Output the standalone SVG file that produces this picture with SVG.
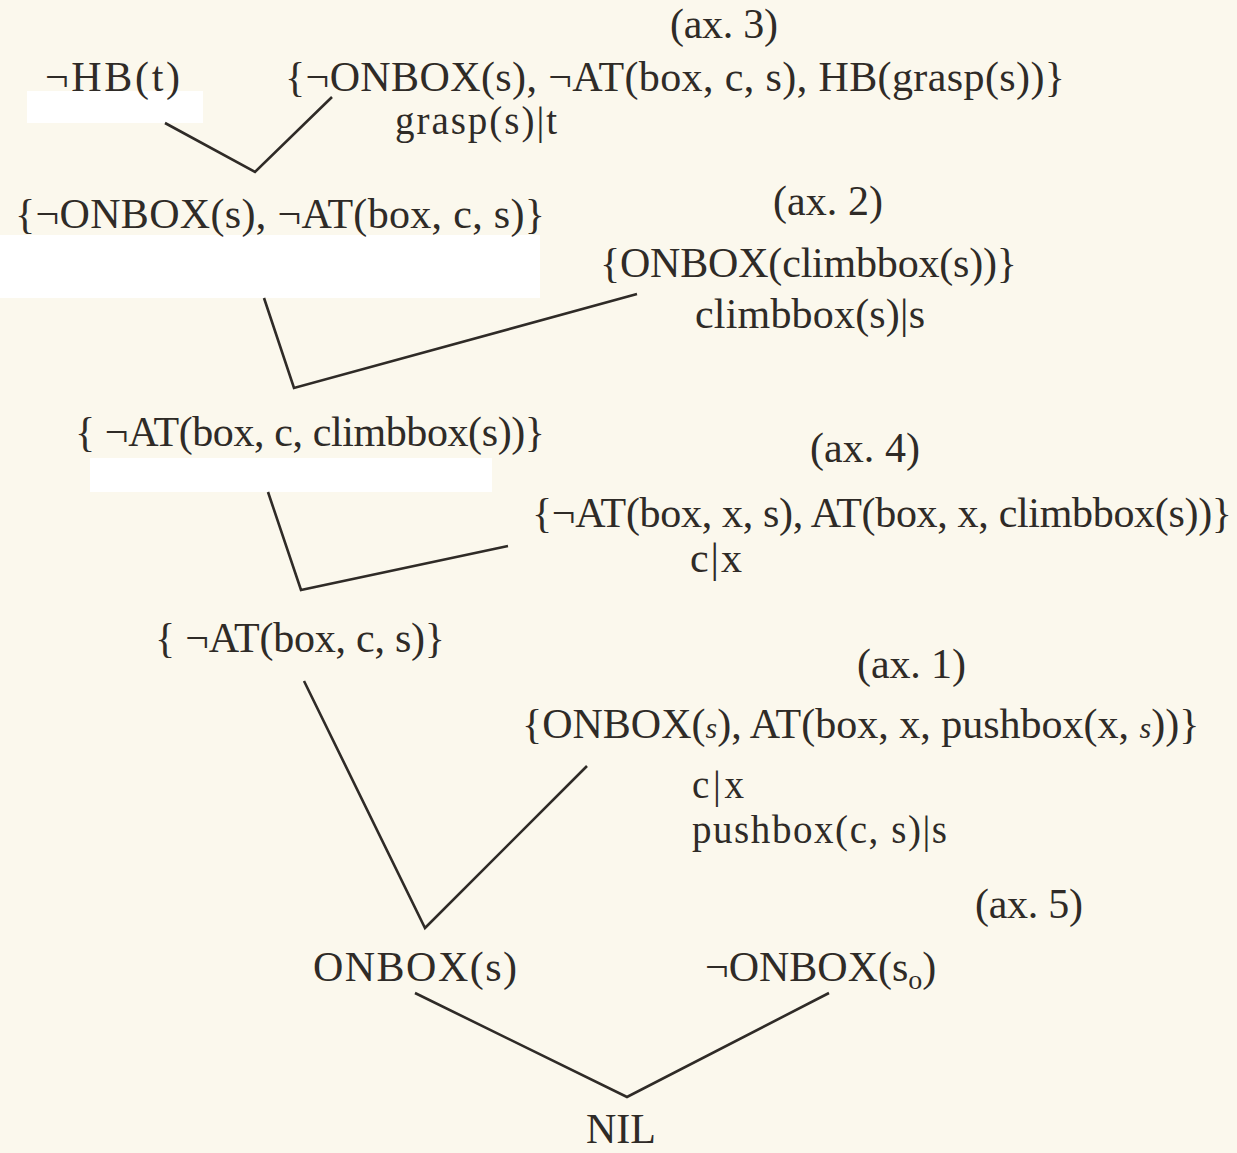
<svg xmlns="http://www.w3.org/2000/svg" width="1237" height="1153" viewBox="0 0 1237 1153">
<style>
text{font-family:"Liberation Serif","Times New Roman",serif;font-size:42px;fill:#2f2b27}
.s{font-size:39px}
.c{fill:none;stroke:#2f2b27;stroke-width:2.6;stroke-linejoin:miter;stroke-linecap:butt}
.w{fill:#ffffff}
.sc{font-style:italic;font-size:30px}
</style>
<rect x="0" y="0" width="1237" height="1153" fill="#fbf8ed"/>
<g id="patches">
<rect class="w" x="27" y="91" width="176" height="32"/>
<rect class="w" x="0" y="235" width="540" height="63"/>
<rect class="w" x="90" y="458" width="402" height="34"/>
</g>
<g id="connectors">
<polyline class="c" points="165,123 255,172 332,97"/>
<polyline class="c" points="264,298 294,388 637,294"/>
<polyline class="c" points="268,492 301,590 508,546"/>
<polyline class="c" points="304,681 425,928 587,766"/>
<polyline class="c" points="415,993 627,1097 829,993"/>
</g>
<g id="n-hb"><text x="45" y="91" textLength="135">¬HB(t)</text></g>
<g id="n-ax3">
<text x="670" y="38" textLength="108">(ax. 3)</text>
<text x="285" y="91" textLength="780">{¬ONBOX(s), ¬AT(box, c, s), HB(grasp(s))}</text>
<text class="s" x="395" y="134" textLength="162">grasp(s)|t</text>
</g>
<g id="n-r1"><text x="15" y="228" textLength="530">{¬ONBOX(s), ¬AT(box, c, s)}</text></g>
<g id="n-ax2">
<text x="773" y="215" textLength="110">(ax. 2)</text>
<text x="600" y="277" textLength="417">{ONBOX(climbbox(s))}</text>
<text x="695" y="328" textLength="230">climbbox(s)|s</text>
</g>
<g id="n-r2"><text x="75" y="446" textLength="470">{ ¬AT(box, c, climbbox(s))}</text></g>
<g id="n-ax4">
<text x="810" y="462" textLength="110">(ax. 4)</text>
<text x="532" y="527" textLength="700">{¬AT(box, x, s), AT(box, x, climbbox(s))}</text>
<text x="690" y="572" textLength="52">c|x</text>
</g>
<g id="n-r3"><text x="155" y="652" textLength="290">{ ¬AT(box, c, s)}</text></g>
<g id="n-ax1">
<text x="857" y="678" textLength="109">(ax. 1)</text>
<text x="522" y="738">{ONBOX(<tspan class="sc">s</tspan>), AT(box, x, pushbox(x, <tspan class="sc">s</tspan>))}</text>
<text class="s" x="692" y="798" textLength="52">c|x</text>
<text class="s" x="692" y="843" textLength="255">pushbox(c, s)|s</text>
</g>
<g id="n-r4"><text x="313" y="981" textLength="204">ONBOX(s)</text></g>
<g id="n-ax5">
<text x="975" y="918" textLength="108">(ax. 5)</text>
<text x="705" y="981">¬ONBOX(s<tspan font-size="28px" dy="8">o</tspan><tspan dy="-8">)</tspan></text>
</g>
<g id="n-nil"><text x="586" y="1143" font-size="44px">NIL</text></g>
</svg>
